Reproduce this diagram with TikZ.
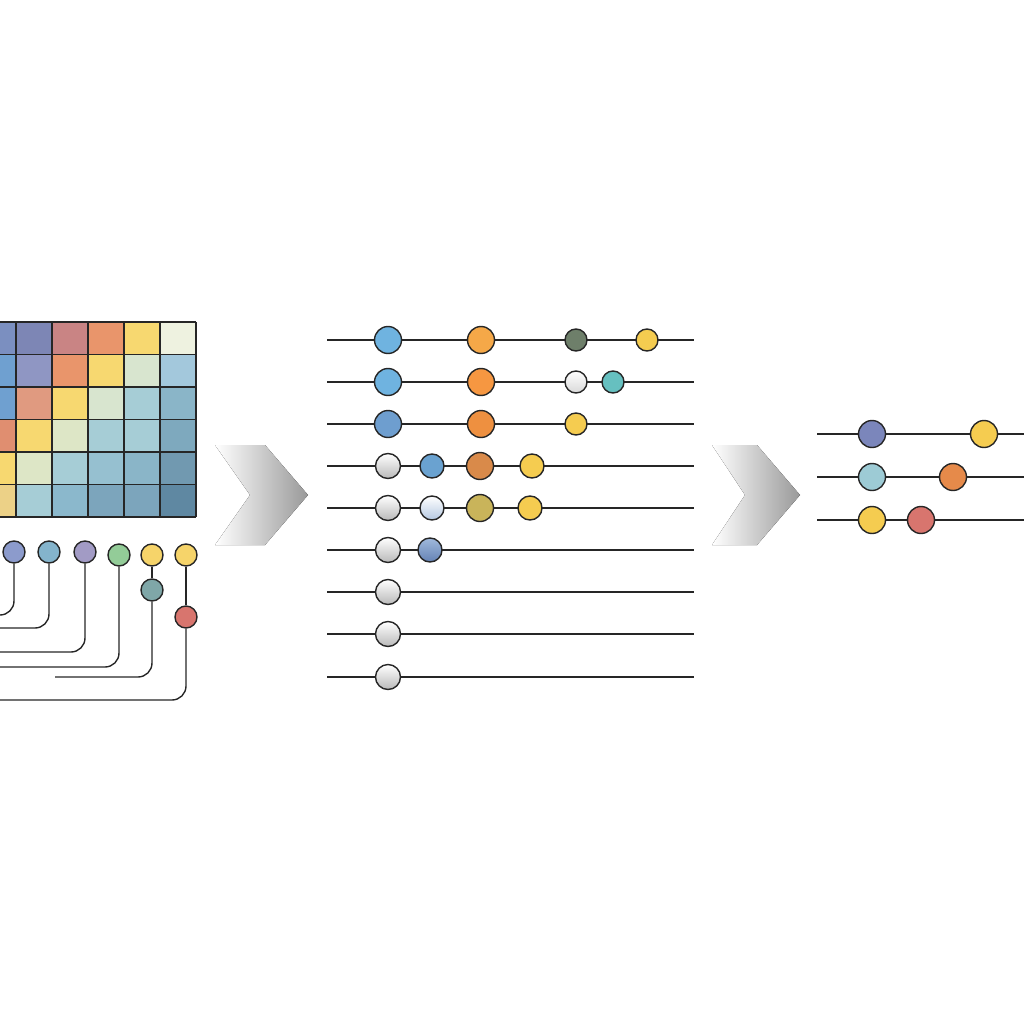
\documentclass[tikz,border=0pt]{standalone}
\usetikzlibrary{positioning}
\definecolor{gA}{HTML}{7B8FC0}\definecolor{gB}{HTML}{7D86B5}\definecolor{gC}{HTML}{C98484}
\definecolor{gD}{HTML}{E9956B}\definecolor{gE}{HTML}{F7D870}\definecolor{gF}{HTML}{EEF2E0}
\definecolor{gG}{HTML}{8F96C3}\definecolor{gH}{HTML}{D8E5CF}\definecolor{gI}{HTML}{A3C8DC}
\definecolor{gJ}{HTML}{E09A80}\definecolor{gK}{HTML}{A6CDD6}\definecolor{gL}{HTML}{8AB5C8}
\definecolor{gM}{HTML}{E08E70}\definecolor{gN}{HTML}{DDE6C6}\definecolor{gO}{HTML}{7EA9BE}
\definecolor{gP}{HTML}{96C0D0}\definecolor{gQ}{HTML}{7199B0}\definecolor{gR}{HTML}{ECD187}
\definecolor{gS}{HTML}{8BB8CC}\definecolor{gT}{HTML}{7CA5BC}\definecolor{gU}{HTML}{5F88A2}
\definecolor{gV}{HTML}{6FA0D0}
\definecolor{dotblue}{HTML}{6FB3E0}\definecolor{dotorange}{HTML}{F5A848}
\definecolor{dotyellow}{HTML}{F5CC50}\definecolor{dotteal}{HTML}{66C0C0}
\definecolor{dotred}{HTML}{D8756E}
\tikzset{
    dot/.style = {circle, draw=black!85, line width=1.4pt, inner sep=0pt, minimum size=22pt},
    bigdot/.style = {dot, minimum size=27pt},
    empty/.style = {bigdot, minimum size=25pt, top color=white, bottom color=gray!55},
    wire/.style = {black!85, line width=1.4pt},
    chevron/.style = {left color=white, right color=gray!80, draw=none},
}
\begin{document}
\begin{tikzpicture}[x=1pt,y=-1pt]
\useasboundingbox (0,0) rectangle (1024,1024);
% heat map
\foreach \row/\cols [count=\r from 0] in {
    0/{gA,gB,gC,gD,gE,gF},1/{gV,gG,gD,gE,gH,gI},2/{gV,gJ,gE,gH,gK,gL},
    3/{gM,gE,gN,gK,gK,gO},4/{gE,gN,gK,gP,gL,gQ},5/{gR,gK,gS,gT,gT,gU}}
  \foreach \c [count=\k from 0] in \cols
    \fill[\c] ({-20+36*\k},{322+32.5*\r}) rectangle ++(36,32.5);
\foreach \k in {0,...,6}
  \draw[wire] ({-20+36*\k},322) -- ({-20+36*\k},517);
\foreach \r in {0,...,6}
  \draw[wire] (-20,{322+32.5*\r}) -- (196,{322+32.5*\r});
% tree below the map
\node[dot, fill={rgb,255:red,140;green,155;blue,204}] (t1) at (14,552) {};
\node[dot, fill={rgb,255:red,132;green,180;blue,204}] (t2) at (49,552) {};
\node[dot, fill={rgb,255:red,162;green,155;blue,197}] (t3) at (85,552) {};
\node[dot, fill={rgb,255:red,147;green,204;blue,152}] (t4) at (119,555) {};
\node[dot, fill=dotyellow!85] (t5) at (152,555) {};
\node[dot, fill=dotyellow!85] (t6) at (186,555) {};
\node[dot, fill={rgb,255:red,127;green,167;blue,168}] (t7) at (152,590) {};
\node[dot, fill=dotred] (t8) at (186,617) {};
\coordinate (e1) at (0,615);\coordinate (e2) at (0,628);\coordinate (e3) at (0,652);
\coordinate (e4) at (0,667);\coordinate (e7) at (55,677);\coordinate (e8) at (0,700);
\draw[wire] (t5) -- (t7);
\draw[wire] (t6) -- (t8);
\draw[wire, rounded corners=14pt] (t1) |- (e1);
\draw[wire, rounded corners=14pt] (t2) |- (e2);
\draw[wire, rounded corners=14pt] (t3) |- (e3);
\draw[wire, rounded corners=14pt] (t4) |- (e4);
\draw[wire, rounded corners=14pt] (t7) |- (e7);
\draw[wire, rounded corners=14pt] (t8) |- (e8);
% chevrons
\fill[chevron] (215,445) -- (265,445) -- (308,495) -- (265,545) -- (215,545) -- (250,495) -- cycle;
\fill[chevron] (712,445) -- (757,445) -- (800,495) -- (757,545) -- (712,545) -- (745,495) -- cycle;
% middle lines
\foreach \y [count=\i] in {340,382,424,466,508,550,592,634,677} {
  \coordinate (ml\i) at (327,\y); \coordinate (mr\i) at (694,\y);
  \draw[wire] (ml\i) -- (mr\i);
}
\node[bigdot, fill=dotblue] (a1) at (388,340) {};
\node[bigdot, fill=dotorange] (b1) at (481,340) {};
\node[dot, fill={rgb,255:red,110;green,127;blue,106}] (c1) at (576,340) {};
\node[dot, fill=dotyellow] (d1) at (647,340) {};
\node[bigdot, fill=dotblue] (a2) at (388,382) {};
\node[bigdot, fill=dotorange!90!red] (b2) at (481,382) {};
\node[dot, top color=white, bottom color=gray!30] (c2) at (576,382) {};
\node[dot, fill=dotteal] (d2) at (613,382) {};
\node[bigdot, fill={rgb,255:red,110;green,158;blue,207}] (a3) at (388,424) {};
\node[bigdot, fill={rgb,255:red,238;green,144;blue,64}] (b3) at (481,424) {};
\node[dot, fill=dotyellow] (c3) at (576,424) {};
\node[empty] (a4) at (388,466) {};
\node[dot, minimum size=24pt, fill={rgb,255:red,106;green,162;blue,208}] (b4) at (432,466) {};
\node[bigdot, fill={rgb,255:red,217;green,138;blue,74}] (c4) at (480,466) {};
\node[dot, minimum size=24pt, fill=dotyellow] (d4) at (532,466) {};
\node[empty] (a5) at (388,508) {};
\node[dot, minimum size=24pt, top color=white, bottom color={rgb,255:red,180;green,200;blue,225}] (b5) at (432,508) {};
\node[bigdot, fill={rgb,255:red,201;green,180;blue,90}] (c5) at (480,508) {};
\node[dot, minimum size=24pt, fill=dotyellow] (d5) at (530,508) {};
\node[empty] (a6) at (388,550) {};
\node[dot, minimum size=24pt, top color={rgb,255:red,160;green,185;blue,220}, bottom color={rgb,255:red,100;green,130;blue,180}] (b6) at (430,550) {};
\node[empty] (a7) at (388,592) {};
\node[empty] (a8) at (388,634) {};
\node[empty] (a9) at (388,677) {};
% right lines
\foreach \y [count=\i] in {434,477,520} {
  \coordinate (rl\i) at (817,\y); \coordinate (rr\i) at (1024,\y);
  \draw[wire] (rl\i) -- (rr\i);
}
\node[bigdot, fill={rgb,255:red,123;green,134;blue,187}] (p1) at (872,434) {};
\node[bigdot, fill=dotyellow] (q1) at (984,434) {};
\node[bigdot, fill={rgb,255:red,157;green,203;blue,213}] (p2) at (872,477) {};
\node[bigdot, fill={rgb,255:red,230;green,138;blue,74}] (q2) at (953,477) {};
\node[bigdot, fill=dotyellow] (p3) at (872,520) {};
\node[bigdot, fill=dotred] (q3) at (921,520) {};
\end{tikzpicture}
\end{document}
